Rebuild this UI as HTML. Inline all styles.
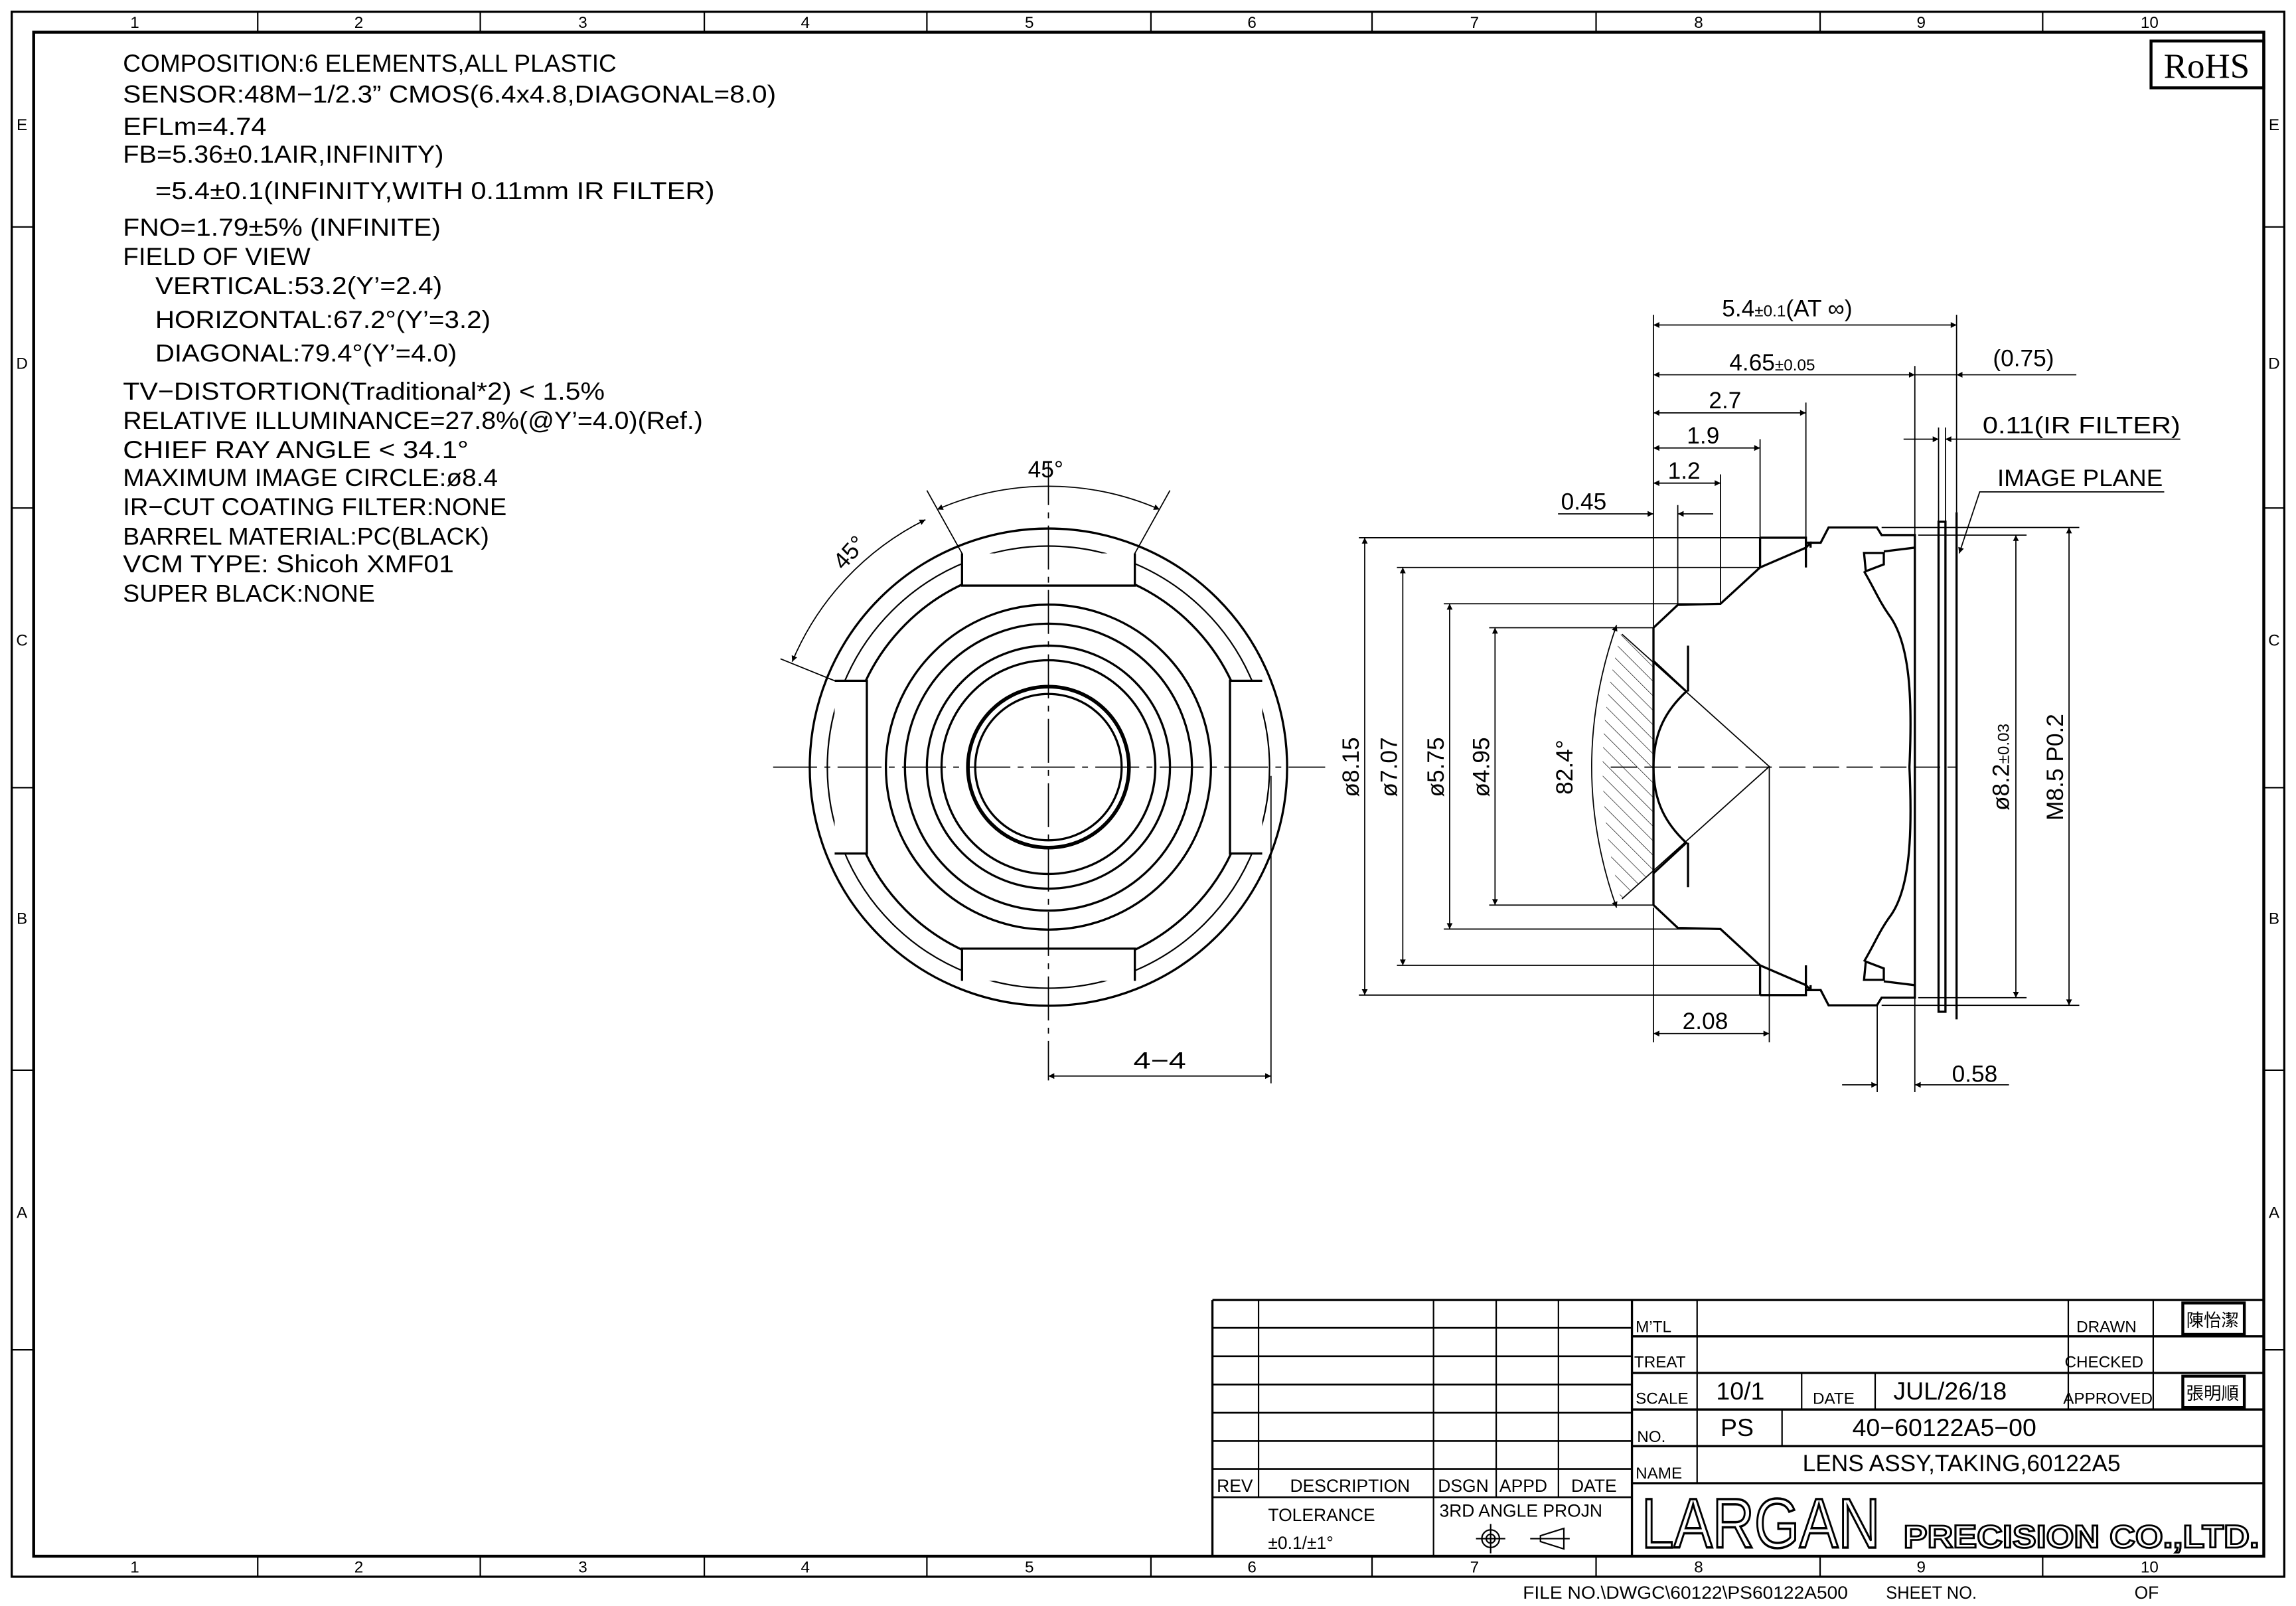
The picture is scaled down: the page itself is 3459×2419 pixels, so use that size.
<!DOCTYPE html>
<html><head><meta charset="utf-8"><style>html,body{margin:0;padding:0;background:#fff}svg{display:block}</style></head><body>
<svg width="3459" height="2419" viewBox="0 0 1568 1097" preserveAspectRatio="none" xmlns="http://www.w3.org/2000/svg" font-family="'Liberation Sans Narrow','Liberation Sans',sans-serif" fill="none" stroke="#000">
<defs>
<marker id="a" viewBox="0 0 10 10" refX="10" refY="5" markerWidth="9" markerHeight="4" markerUnits="userSpaceOnUse" orient="auto-start-reverse"><path d="M0 0L10 5L0 10z" fill="#000" stroke="none"/></marker>
<pattern id="h" width="7" height="7" patternUnits="userSpaceOnUse" patternTransform="rotate(-45)"><line x1="0" y1="0" x2="0" y2="7" stroke="#000" stroke-width="0.6"/></pattern>
</defs>
<rect x="0" y="0" width="1568" height="1097" fill="#fff" stroke="none"/>
<g stroke-width="1.5">
<rect x="8" y="8" width="1552" height="1069"/>
<rect x="23" y="22" width="1523" height="1041" stroke-width="2"/>
</g>
<g stroke-width="1">
<path d="M176 8V22M328 8V22M481 8V22M633 8V22M786 8V22M937 8V22M1090 8V22M1243 8V22M1395 8V22"/>
<path d="M176 1063V1077M328 1063V1077M481 1063V1077M633 1063V1077M786 1063V1077M937 1063V1077M1090 1063V1077M1243 1063V1077M1395 1063V1077"/>
<path d="M8 155H23M8 347H23M8 538H23M8 731H23M8 922H23M1546 155H1560M1546 347H1560M1546 538H1560M1546 731H1560M1546 922H1560"/>
</g>
<g fill="#000" stroke="none" font-size="11" text-anchor="middle">
<text x="92" y="19">1</text><text x="245" y="19">2</text><text x="398" y="19">3</text><text x="550" y="19">4</text><text x="703" y="19">5</text><text x="855" y="19">6</text><text x="1007" y="19">7</text><text x="1160" y="19">8</text><text x="1312" y="19">9</text><text x="1468" y="19">10</text>
<text x="92" y="1074">1</text><text x="245" y="1074">2</text><text x="398" y="1074">3</text><text x="550" y="1074">4</text><text x="703" y="1074">5</text><text x="855" y="1074">6</text><text x="1007" y="1074">7</text><text x="1160" y="1074">8</text><text x="1312" y="1074">9</text><text x="1468" y="1074">10</text>
<text x="15" y="89">E</text><text x="15" y="252">D</text><text x="15" y="441">C</text><text x="15" y="631">B</text><text x="15" y="832">A</text>
<text x="1553" y="89">E</text><text x="1553" y="252">D</text><text x="1553" y="441">C</text><text x="1553" y="631">B</text><text x="1553" y="832">A</text>
<text x="1040" y="1092" text-anchor="start" font-size="12" textLength="222" lengthAdjust="spacingAndGlyphs">FILE  NO.\DWGC\60122\PS60122A500</text>
<text x="1288" y="1092" text-anchor="start" font-size="12" textLength="62" lengthAdjust="spacingAndGlyphs">SHEET  NO.</text>
<text x="1466" y="1092" font-size="12">OF</text>
</g>
<rect x="1469" y="28" width="77" height="32" stroke-width="2"/>
<text x="1507" y="53" fill="#000" stroke="none" font-family="'Liberation Serif',serif" font-size="24" text-anchor="middle">RoHS</text>
<g fill="#000" stroke="none" font-size="17">
<text x="84" y="49" textLength="337" lengthAdjust="spacingAndGlyphs">COMPOSITION:6  ELEMENTS,ALL  PLASTIC</text>
<text x="84" y="70" textLength="446" lengthAdjust="spacingAndGlyphs">SENSOR:48M−1/2.3”  CMOS(6.4x4.8,DIAGONAL=8.0)</text>
<text x="84" y="92" textLength="98" lengthAdjust="spacingAndGlyphs">EFLm=4.74</text>
<text x="84" y="111" textLength="219" lengthAdjust="spacingAndGlyphs">FB=5.36±0.1AIR,INFINITY)</text>
<text x="106" y="136" textLength="382" lengthAdjust="spacingAndGlyphs">=5.4±0.1(INFINITY,WITH  0.11mm  IR  FILTER)</text>
<text x="84" y="161" textLength="217" lengthAdjust="spacingAndGlyphs">FNO=1.79±5%  (INFINITE)</text>
<text x="84" y="181" textLength="128" lengthAdjust="spacingAndGlyphs">FIELD  OF  VIEW</text>
<text x="106" y="201" textLength="196" lengthAdjust="spacingAndGlyphs">VERTICAL:53.2(Y’=2.4)</text>
<text x="106" y="224" textLength="229" lengthAdjust="spacingAndGlyphs">HORIZONTAL:67.2°(Y’=3.2)</text>
<text x="106" y="247" textLength="206" lengthAdjust="spacingAndGlyphs">DIAGONAL:79.4°(Y’=4.0)</text>
<text x="84" y="273" textLength="329" lengthAdjust="spacingAndGlyphs">TV−DISTORTION(Traditional*2)  &lt;  1.5%</text>
<text x="84" y="293" textLength="396" lengthAdjust="spacingAndGlyphs">RELATIVE  ILLUMINANCE=27.8%(@Y’=4.0)(Ref.)</text>
<text x="84" y="313" textLength="236" lengthAdjust="spacingAndGlyphs">CHIEF  RAY  ANGLE  &lt;  34.1°</text>
<text x="84" y="332" textLength="256" lengthAdjust="spacingAndGlyphs">MAXIMUM  IMAGE  CIRCLE:ø8.4</text>
<text x="84" y="352" textLength="262" lengthAdjust="spacingAndGlyphs">IR−CUT  COATING  FILTER:NONE</text>
<text x="84" y="372" textLength="250" lengthAdjust="spacingAndGlyphs">BARREL  MATERIAL:PC(BLACK)</text>
<text x="84" y="391" textLength="226" lengthAdjust="spacingAndGlyphs">VCM  TYPE:  Shicoh  XMF01</text>
<text x="84" y="411" textLength="172" lengthAdjust="spacingAndGlyphs">SUPER  BLACK:NONE</text>
</g>
<g stroke-width="1.5">
<circle cx="716" cy="524" r="163"/>
<circle cx="716" cy="524" r="151" stroke-width="1"/>
<circle cx="716" cy="524" r="138"/>
<circle cx="716" cy="524" r="111"/>
<circle cx="716" cy="524" r="98"/>
<circle cx="716" cy="524" r="83"/>
<circle cx="716" cy="524" r="73"/>
<circle cx="716" cy="524" r="55" stroke-width="2.5"/>
<circle cx="716" cy="524" r="50"/>
<path d="M657 378V400H775V378M657 670V648H775V670M570 465H592V583H570M862 465H840V583H862" fill="#fff"/>
</g>
<g stroke-width="0.8">
<path d="M528 524H905" stroke-dasharray="30 5 4 5"/>
<path d="M716 315V738" stroke-dasharray="30 5 4 5"/>
<path d="M657 378L633 335M775 378L799 335M570 465L533 450"/>
<path d="M640 348A190 190 0 0 1 792 348" marker-start="url(#a)" marker-end="url(#a)"/>
<path d="M632 355A190 190 0 0 0 541 452" marker-start="url(#a)" marker-end="url(#a)"/>
<path d="M868 530V740"/>
<path d="M716 735H868" marker-start="url(#a)" marker-end="url(#a)"/>
</g>
<g fill="#000" stroke="none" font-size="16">
<text x="702" y="326">45°</text>
<text x="0" y="0" transform="translate(576,390) rotate(-48)">45°</text>
<text x="774" y="730" textLength="36" lengthAdjust="spacingAndGlyphs">4−4</text>
</g>
<g stroke-width="1.5">
<path d="M1129.2 428.8L1145.8 413.2L1175 412.4L1202 387.6L1233.3 374.1L1236.5 370.7L1243.4 370.7L1248.8 360.3L1281.8 360.3L1285 365.5L1307.7 365.5L1307.7 681.5L1285 681.5L1281.8 686.7L1248.8 686.7L1243.4 676.3L1236.5 676.3L1233.3 672.9L1202 659.4L1175 634.6L1145.8 633.8L1129.2 618.2Z"/>
<path d="M1202 367.3H1233.3V387.6M1202 367.3V387.6M1202 679.7H1233.3V659.4M1202 679.7V659.4"/>
<path d="M1233.3 370.7h3.2v3.4M1233.3 676.3h3.2v-3.4"/>
<path d="M1273 377.7H1286.5V385.5L1274.2 390.2ZM1286.5 376.7L1307.3 374.1M1273 669.3H1286.5V661.5L1274.2 656.8ZM1286.5 670.3L1307.3 672.9"/>
<path d="M1273 390.2C1280 402 1283 410 1290 420C1305 440 1306 480 1304 524C1306 568 1305 608 1290 627C1283 637 1280 645 1273 656.8"/>
<path d="M1129.2 451.5L1151.6 472.3C1138 485 1129.2 500 1129.2 524C1129.2 548 1138 563 1151.6 575.7L1129.2 596.5"/>
<path d="M1152.8 441V472.3M1152.8 575.7V606"/>
<rect x="1323.9" y="356.4" width="4.7" height="334.7"/>
<path d="M1336.2 349.9V696.3"/>
</g>
<path d="M1107 433 Q1082 524 1107 614 L1129.2 594 L1129.2 454 Z" fill="url(#h)" stroke="none"/>
<g stroke-width="0.8">
<path d="M1107.7 433.2L1208.3 523.6L1107.7 614"/>
<path d="M1104 427 Q1070 524 1104 620" marker-start="url(#a)" marker-end="url(#a)"/>
<path d="M1100 524H1336" stroke-dasharray="18 5"/>
<path d="M1129.2 215V428M1336.2 215V350M1307.7 250V365M1233.3 275V374M1202 300V367M1175 324V412M1145.8 345V413M1323.9 292V356M1328.6 292V356"/>
<path d="M1129.2 620V712M1208.3 524V712M1282 687V746M1307.7 682V746"/>
<path d="M928 367.3H1202M954 387.6H1202M986 412.4H1175M1017 428.8H1129M928 679.7H1202M954 659.4H1202M986 634.6H1175M1017 618.2H1129"/>
<path d="M1310 365.5H1384M1310 681.5H1384M1285 360.3H1420M1285 686.7H1420"/>
<path d="M1129.2 222H1336.2" marker-start="url(#a)" marker-end="url(#a)"/>
<path d="M1129.2 256H1307.7" marker-start="url(#a)" marker-end="url(#a)"/>
<path d="M1307.7 256H1336.2"/>
<path d="M1336.2 256H1418" marker-start="url(#a)"/>
<path d="M1129.2 282H1233.3" marker-start="url(#a)" marker-end="url(#a)"/>
<path d="M1129.2 306H1202" marker-start="url(#a)" marker-end="url(#a)"/>
<path d="M1129.2 330H1175" marker-start="url(#a)" marker-end="url(#a)"/>
<path d="M1064 351H1129.2" marker-end="url(#a)"/>
<path d="M1170 351H1145.8" marker-end="url(#a)"/>
<path d="M1300 300H1323.9" marker-end="url(#a)"/>
<path d="M1489 300H1328.6" marker-end="url(#a)"/>
<path d="M1478 336H1352L1338 378" marker-end="url(#a)"/>
<path d="M1129.2 706H1208.3" marker-start="url(#a)" marker-end="url(#a)"/>
<path d="M1258 741H1282" marker-end="url(#a)"/>
<path d="M1372 741H1307.7" marker-end="url(#a)"/>
<path d="M932 367.3V679.7" marker-start="url(#a)" marker-end="url(#a)"/>
<path d="M958 387.6V659.4" marker-start="url(#a)" marker-end="url(#a)"/>
<path d="M990 412.4V634.6" marker-start="url(#a)" marker-end="url(#a)"/>
<path d="M1021 428.8V618.2" marker-start="url(#a)" marker-end="url(#a)"/>
<path d="M1376.7 365.5V681.5" marker-start="url(#a)" marker-end="url(#a)"/>
<path d="M1413 360.3V686.7" marker-start="url(#a)" marker-end="url(#a)"/>
</g>
<g fill="#000" stroke="none" font-size="16">
<text x="1176" y="216">5.4<tspan font-size="11">±0.1</tspan>(AT  ∞)</text>
<text x="1181" y="253">4.65<tspan font-size="11">±0.05</tspan></text>
<text x="1361" y="250">(0.75)</text>
<text x="1167" y="279">2.7</text>
<text x="1152" y="303">1.9</text>
<text x="1139" y="327">1.2</text>
<text x="1066" y="348">0.45</text>
<text x="1354" y="296" textLength="135" lengthAdjust="spacingAndGlyphs">0.11(IR  FILTER)</text>
<text x="1364" y="332" textLength="113" lengthAdjust="spacingAndGlyphs">IMAGE  PLANE</text>
<text x="1149" y="703">2.08</text>
<text x="1333" y="739">0.58</text>
<text transform="translate(928,524) rotate(-90)" text-anchor="middle">ø8.15</text>
<text transform="translate(954,524) rotate(-90)" text-anchor="middle">ø7.07</text>
<text transform="translate(986,524) rotate(-90)" text-anchor="middle">ø5.75</text>
<text transform="translate(1017,524) rotate(-90)" text-anchor="middle">ø4.95</text>
<text transform="translate(1074,524) rotate(-90)" text-anchor="middle">82.4°</text>
<text transform="translate(1372,524) rotate(-90)" text-anchor="middle">ø8.2<tspan font-size="11">±0.03</tspan></text>
<text transform="translate(1409,524) rotate(-90)" text-anchor="middle">M8.5  P0.2</text>
</g>
<g stroke-width="1.5">
<path d="M828 888H1546M828 888V1063M1114.5 888V1063"/>
<path d="M828 907H1114.5M828 926.4H1114.5M828 945.7H1114.5M828 965H1114.5M828 984.3H1114.5M828 1003.4H1114.5M828 1022.7H1114.5" stroke-width="1.2"/>
<path d="M859.5 888V1022.7M979 888V1063M1021.8 888V1022.7M1064.3 888V1022.7" stroke-width="1"/>
<path d="M1114.5 912.8H1546M1114.5 937.8H1546M1114.5 962.8H1546M1114.5 987.8H1546M1114.5 1013.1H1546"/>
<path d="M1159 888V1013.1M1412.5 888V962.8M1470.5 888V962.8M1230.4 937.8V962.8M1280.6 937.8V962.8M1217 962.8V987.8" stroke-width="1"/>
<rect x="1490.7" y="890" width="42" height="21.5" stroke-width="2"/>
<rect x="1490.7" y="940" width="42" height="21.5" stroke-width="2"/>
</g>
<g fill="#000" stroke="none" font-size="11">
<text x="1117" y="910">M’TL</text>
<text x="1116" y="934">TREAT</text>
<text x="1117" y="959">SCALE</text>
<text x="1118" y="985">NO.</text>
<text x="1117" y="1010">NAME</text>
<text x="1418" y="910">DRAWN</text>
<text x="1410" y="934">CHECKED</text>
<text x="1409" y="959">APPROVED</text>
<text x="1238" y="959">DATE</text>
<text x="1172" y="956" font-size="17">10/1</text>
<text x="1293" y="956" font-size="17">JUL/26/18</text>
<text x="1175" y="981" font-size="17">PS</text>
<text x="1265" y="981" font-size="17">40−60122A5−00</text>
<text x="1231" y="1005" font-size="16">LENS  ASSY,TAKING,60122A5</text>
<text x="1511" y="906" font-family="'Noto Sans CJK TC',sans-serif" font-size="12" text-anchor="middle">陳怡潔</text>
<text x="1511" y="956" font-family="'Noto Sans CJK TC',sans-serif" font-size="12" text-anchor="middle">張明順</text>
<text x="831" y="1019" font-size="12">REV</text>
<text x="881" y="1019" font-size="12">DESCRIPTION</text>
<text x="982" y="1019" font-size="12">DSGN</text>
<text x="1024" y="1019" font-size="12">APPD</text>
<text x="1073" y="1019" font-size="12">DATE</text>
<text x="866" y="1039" font-size="12">TOLERANCE</text>
<text x="866" y="1058" font-size="12">±0.1/±1°</text>
<text x="983" y="1036" font-size="12">3RD  ANGLE  PROJN</text>
</g>
<g stroke-width="1">
<circle cx="1018" cy="1051" r="6"/><circle cx="1018" cy="1051" r="3"/><path d="M1008 1051H1028M1018 1041V1061"/>
<path d="M1045 1051H1072M1052 1049L1068 1044V1058L1052 1053Z"/>
</g>
<text x="1121" y="1057" font-family="'Liberation Sans',sans-serif" font-size="48" fill="#fff" stroke="#000" stroke-width="1.6" textLength="163" lengthAdjust="spacingAndGlyphs">LARGAN</text>
<text x="1300" y="1057" font-family="'Liberation Sans',sans-serif" font-weight="bold" font-size="22" fill="#fff" stroke="#000" stroke-width="1.3" textLength="243" lengthAdjust="spacingAndGlyphs">PRECISION CO.,LTD.</text>
</svg>
</body></html>
